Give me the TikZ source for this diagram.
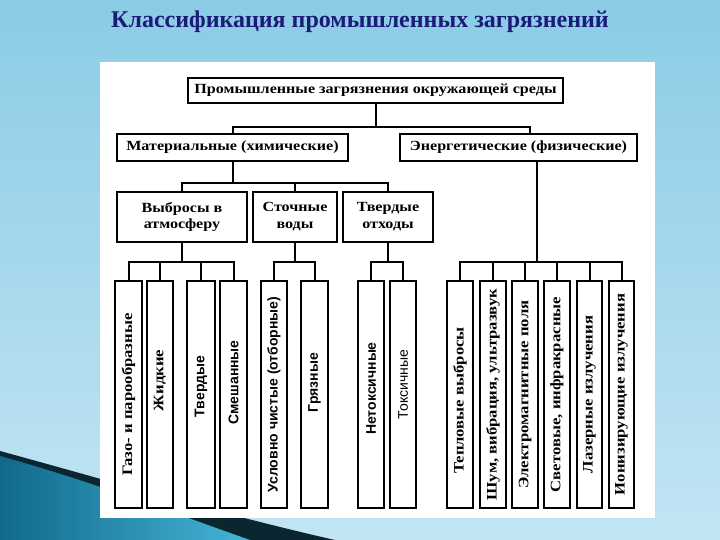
\documentclass[tikz,border=0pt]{standalone}
\usepackage{fontspec}
\setmainfont{Liberation Serif}
\newfontfamily\boxserif[FakeStretch=1.15]{Liberation Serif}
\newfontfamily\colsans{Liberation Sans}
\definecolor{titleblue}{HTML}{1B1B78}
\definecolor{bgtop}{HTML}{8BCBE6}
\definecolor{bgbot}{HTML}{C2E5F3}
\definecolor{tealdark}{HTML}{11698A}
\definecolor{teallight}{HTML}{45B5D8}
\definecolor{wavedark}{HTML}{0B2630}
\tikzset{
  box/.style={draw=black, line width=2pt, fill=white, inner sep=0pt, align=center},
  hbox/.style={box, font=\boxserif\bfseries\fontsize{14}{17}\selectfont},
  colbox/.style={draw=black, line width=2pt, fill=white, minimum height=227pt, inner sep=0pt},
  coltxt/.style={rotate=90, inner sep=0pt},
  cserif/.style={font=\boxserif\bfseries\fontsize{14.5}{16}\selectfont},
  csans/.style={font=\colsans\bfseries\fontsize{14}{16}\selectfont},
  conn/.style={draw=black, line width=2pt}
}
\begin{document}
\begin{tikzpicture}[x=1pt,y=-1pt]
\useasboundingbox (0,0) rectangle (720,540);
% background
\shade[top color=bgtop, bottom color=bgbot] (0,0) rectangle (720,540);
\fill[wavedark] (0,451) .. controls (110,481) and (220,514) .. (335,540) -- (0,540) -- cycle;
\shade[left color=tealdark, right color=teallight] (0,456) .. controls (100,484) and (170,512) .. (250,540) -- (0,540) -- cycle;
% title
\node[font=\bfseries\fontsize{24}{28}\selectfont, text=titleblue] (title) at (360,22) {Классификация промышленных загрязнений};
% panel
\fill[white] (100,62) rectangle (655,518);
% level 1 and 2
\node[hbox, minimum width=375pt, minimum height=25pt] (top) at (375.5,90.5) {Промышленные загрязнения окружающей среды};
\node[hbox, minimum width=231pt, minimum height=27pt] (mat) at (232.5,147.5) {Материальные (химические)};
\node[hbox, minimum width=237pt, minimum height=27pt] (en) at (518.5,147.5) {Энергетические (физические)};
% level 3
\node[hbox, minimum width=130pt, minimum height=50pt] (vyb) at (182,217) {Выбросы в\\атмосферу};
\node[hbox, minimum width=84pt, minimum height=50pt] (st) at (295,217) {Сточные\\воды};
\node[hbox, minimum width=90pt, minimum height=50pt] (tv) at (388,217) {Твердые\\отходы};
% columns
\node[colbox, minimum width=27pt] (ca) at (128.5,394.5) {};
\node[colbox, minimum width=26pt] (cb) at (160,394.5) {};
\node[colbox, minimum width=28pt] (cc) at (201,394.5) {};
\node[colbox, minimum width=27pt] (cd) at (233.5,394.5) {};
\node[colbox, minimum width=26pt] (ce) at (274,394.5) {};
\node[colbox, minimum width=27pt] (cf) at (314.5,394.5) {};
\node[colbox, minimum width=26pt] (cg) at (371,394.5) {};
\node[colbox, minimum width=26pt] (ch) at (403,394.5) {};
\node[colbox, minimum width=26pt] (e1) at (460,394.5) {};
\node[colbox, minimum width=26pt] (e2) at (493,394.5) {};
\node[colbox, minimum width=26pt] (e3) at (525,394.5) {};
\node[colbox, minimum width=26pt] (e4) at (557,394.5) {};
\node[colbox, minimum width=25pt] (e5) at (589.5,394.5) {};
\node[colbox, minimum width=25pt] (e6) at (621.5,394.5) {};
% column texts
\node[coltxt, cserif] (ta) at (ca.center) {Газо- и парообразные};
\node[coltxt, cserif] (tb) at ([yshift=14pt]cb.center) {Жидкие};
\node[coltxt, csans] (tc) at ([yshift=8pt]cc.center) {Твердые};
\node[coltxt, csans] (td) at ([yshift=12pt]cd.center) {Смешанные};
\node[coltxt, csans] (te) at (ce.center) {Условно чистые (отборные)};
\node[coltxt, csans] (tf) at ([yshift=12pt]cf.center) {Грязные};
\node[coltxt, csans] (tg) at ([yshift=6pt]cg.center) {Нетоксичные};
\node[coltxt, csans, font=\colsans\fontsize{14}{16}\selectfont] (th) at ([yshift=10pt]ch.center) {Токсичные};
\node[coltxt, cserif] (t1) at ([yshift=-6pt]e1.center) {Тепловые выбросы};
\node[coltxt, cserif] (t2) at (e2.center) {Шум, вибрация, ультразвук};
\node[coltxt, cserif] (t3) at (e3.center) {Электромагнитные поля};
\node[coltxt, cserif] (t4) at (e4.center) {Световые, инфракрасные};
\node[coltxt, cserif] (t5) at (e5.center) {Лазерные излучения};
\node[coltxt, cserif] (t6) at (e6.center) {Ионизирующие излучения};
% bus coordinates
\coordinate (bus1) at (0,127);
\coordinate (bus2) at (0,183);
\coordinate (bus3) at (0,262);
\coordinate (edrop) at (537,0);
\coordinate (endrop) at (530,0);
% connectors level 1 -> 2
\draw[conn] (top.south) -- (top.south |- bus1);
\draw[conn] (mat.north) -- (mat.north |- bus1) -- (endrop |- bus1) -- (endrop |- en.north);
% level 2 -> 3
\draw[conn] (mat.south) -- (mat.south |- bus2);
\draw[conn] (vyb.north) -- (vyb.north |- bus2) -- (tv.north |- bus2) -- (tv.north);
\draw[conn] (st.north) -- (st.north |- bus2);
% level 3 -> columns
\draw[conn] (vyb.south) -- (vyb.south |- bus3);
\draw[conn] (ca.north) -- (ca.north |- bus3) -- (cd.north |- bus3) -- (cd.north);
\draw[conn] (cb.north) -- (cb.north |- bus3);
\draw[conn] (cc.north) -- (cc.north |- bus3);
\draw[conn] (st.south) -- (st.south |- bus3);
\draw[conn] (ce.north) -- (ce.north |- bus3) -- (cf.north |- bus3) -- (cf.north);
\draw[conn] (tv.south) -- (tv.south |- bus3);
\draw[conn] (cg.north) -- (cg.north |- bus3) -- (ch.north |- bus3) -- (ch.north);
% energy
\draw[conn] (edrop |- en.south) -- (edrop |- bus3);
\draw[conn] (e1.north) -- (e1.north |- bus3) -- (e6.north |- bus3) -- (e6.north);
\draw[conn] (e2.north) -- (e2.north |- bus3);
\draw[conn] (e3.north) -- (e3.north |- bus3);
\draw[conn] (e4.north) -- (e4.north |- bus3);
\draw[conn] (e5.north) -- (e5.north |- bus3);
\end{tikzpicture}
\end{document}
